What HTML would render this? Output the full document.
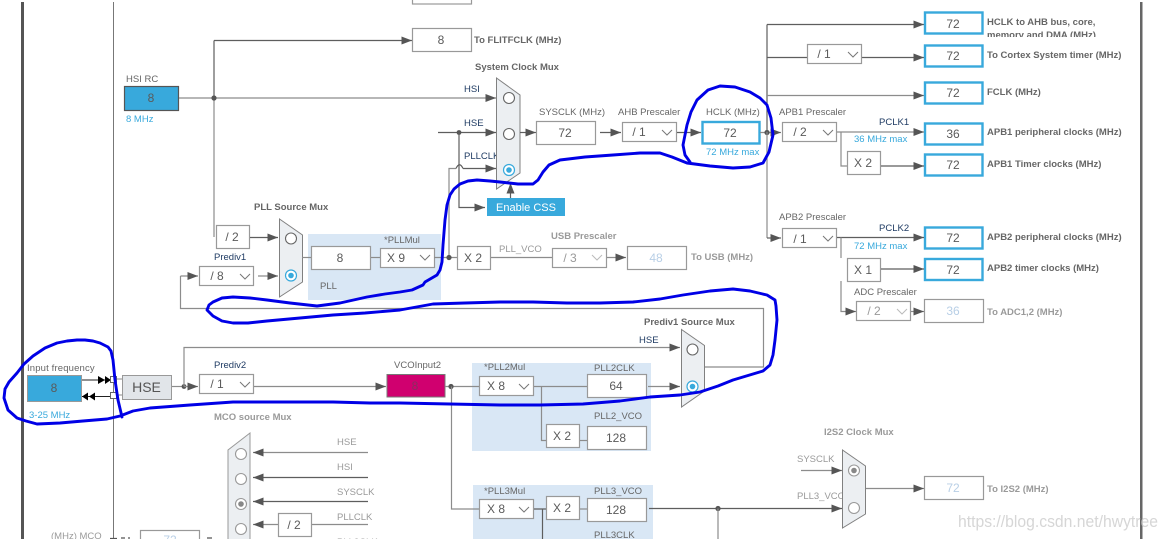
<!DOCTYPE html>
<html><head><meta charset="utf-8"><style>
html,body{margin:0;padding:0;background:#fff;width:1168px;height:539px;overflow:hidden}
svg{display:block}
text{font-family:"Liberation Sans",sans-serif;font-size:9.5px;fill:#666}
.b{font-weight:bold}
.g{fill:#9a9a9a}
.n{fill:#1f3b63}
.c{fill:#38a9dc}
.v{font-size:12px;text-anchor:middle;fill:#5a5a5a}
.vg{font-size:12px;text-anchor:middle;fill:#b8cfe6}
.l{fill:none;stroke:#8c8c8c;stroke-width:1.2}
.d{fill:none;stroke:#5e5e5e;stroke-width:1.2}
.a{marker-end:url(#m)}
.box{fill:#fff;stroke:#999;stroke-width:1.2}
.bl{fill:#fff;stroke:#38a9dc;stroke-width:2.4}
.mux{fill:#eceff2;stroke:#808080;stroke-width:1}
.o{fill:#fff;stroke:#666;stroke-width:1.1}
.ch{fill:none;stroke:#777;stroke-width:1}
.chg{fill:none;stroke:#bbb;stroke-width:1}
</style></head><body>
<svg width="1168" height="539" viewBox="0 0 1168 539" xmlns="http://www.w3.org/2000/svg">
<defs>
<marker id="m" markerUnits="userSpaceOnUse" markerWidth="11" markerHeight="9" refX="10.5" refY="4" orient="auto"><path d="M0 0L10.5 4L0 8Z" fill="#555"/></marker>
<clipPath id="clip1"><rect x="980" y="10" width="150" height="27"/></clipPath>
</defs>

<!-- frame -->
<rect x="21" y="2" width="3" height="537" fill="#555"/>
<rect x="113" y="2" width="1" height="537" fill="#777"/>
<rect x="1140" y="2" width="2.5" height="537" fill="#666"/>

<!-- blue panels -->
<rect x="308" y="234" width="133" height="66" fill="#d9e7f5"/>
<rect x="472" y="363" width="179" height="88" fill="#d9e7f5"/>
<rect x="473" y="485" width="180" height="54" fill="#d9e7f5"/>

<!-- HSI -->
<text x="126" y="82">HSI RC</text>
<rect x="124.5" y="86.5" width="54" height="24" fill="#38a9dc" stroke="#555" stroke-width="1.2"/>
<text x="151" y="102" class="v">8</text>
<text x="126" y="122" class="c">8 MHz</text>
<path class="l a" d="M179 98H496"/>
<path class="d" d="M214 98V40.5"/>
<path class="l" d="M214 98V237"/>
<path class="d a" d="M214 40.5H412"/>
<circle cx="214" cy="98" r="2.6" fill="#555"/>

<rect class="box" x="412.5" y="-10" width="59" height="14"/>
<rect class="box" x="412.5" y="28.5" width="59" height="23"/>
<text x="441" y="44" class="v">8</text>
<text x="474" y="43" class="b">To FLITFCLK (MHz)</text>

<!-- system mux -->
<text x="475" y="70" class="b">System Clock Mux</text>
<text x="464" y="92" class="n">HSI</text>
<text x="464" y="126" class="n">HSE</text>
<text x="464" y="159" class="n">PLLCLK</text>
<path class="d a" d="M438 132.5H496"/>
<circle cx="459" cy="132.5" r="2.4" fill="#555"/>
<path class="d a" d="M459 132.5V207.5H485"/>
<path class="l" d="M449 257V168.5H456"/>
<path class="d" d="M456 168.5Q459.5 161 463 168.5"/>
<path class="d a" d="M463 168.5H496"/>
<path class="mux" d="M496.5 78L520 95V173L496.5 189Z"/>
<circle class="o" cx="509" cy="98" r="5.5"/>
<circle class="o" cx="509" cy="134" r="5.5"/>
<circle cx="509" cy="170" r="5.5" fill="#fff" stroke="#38a9dc" stroke-width="1.2"/>
<circle cx="509" cy="170" r="2.8" fill="#38a9dc"/>
<path class="d a" d="M510.500 198V183"/>
<rect x="487" y="198" width="78" height="18" fill="#38a9dc"/>
<text x="526" y="211" text-anchor="middle" style="font-size:11px;fill:#fff">Enable CSS</text>

<!-- SYSCLK / AHB / HCLK -->
<text x="539" y="115">SYSCLK (MHz)</text>
<path class="d a" d="M520 132.500H536"/>
<rect class="box" x="536.500" y="121.500" width="59" height="23"/>
<text x="565" y="137" class="v">72</text>
<text x="618" y="115">AHB Prescaler</text>
<path class="d a" d="M600 132.500H621"/>
<rect class="box" x="622.500" y="122.500" width="54" height="19"/>
<text x="639" y="136" class="v">/ 1</text>
<path class="ch" d="M662 130l5 5l5-5"/>
<path class="d a" d="M677 132.500H701"/>
<text x="706" y="115">HCLK (MHz)</text>
<rect class="bl" x="702.500" y="122" width="57" height="21.500"/>
<text x="730" y="137" class="v">72</text>
<text x="706" y="155" class="c">72 MHz max</text>
<path class="l a" d="M760 132.500H781"/>
<circle cx="767" cy="132.500" r="2.600" fill="#555"/>

<!-- right trunk -->
<path class="d" d="M767 24.500V132"/>
<path class="l" d="M767 132V238"/>
<path class="d a" d="M767 24.500H924"/>
<path class="d" d="M767 57.500H807"/>
<path class="d a" d="M861 57.500H924"/>
<path class="l a" d="M767 95.500H924"/>
<path class="d a" d="M767 238H781"/>
<rect class="box" x="807.500" y="44.500" width="54" height="19"/>
<text x="824" y="58" class="v">/ 1</text>
<path class="ch" d="M848 52l5 5l5-5"/>

<rect class="bl" x="925" y="12.500" width="57.500" height="21"/>
<text x="953" y="28" class="v">72</text>
<rect class="bl" x="925" y="45.500" width="57.500" height="21"/>
<text x="953" y="60" class="v">72</text>
<rect class="bl" x="925" y="82.500" width="57.500" height="21"/>
<text x="953" y="97" class="v">72</text>
<rect class="bl" x="925" y="123.500" width="57.500" height="21"/>
<text x="953" y="138" class="v">36</text>
<rect class="bl" x="925" y="154.500" width="57.500" height="21"/>
<text x="953" y="169" class="v">72</text>
<rect class="bl" x="925" y="227.500" width="57.500" height="21"/>
<text x="953" y="242" class="v">72</text>
<rect class="bl" x="925" y="259" width="57.500" height="21"/>
<text x="953" y="274" class="v">72</text>

<g clip-path="url(#clip1)">
<text x="987" y="25" class="b">HCLK to AHB bus, core,</text>
<text x="987" y="38" class="b">memory and DMA (MHz)</text>
</g>
<text x="987" y="58" class="b">To Cortex System timer (MHz)</text>
<text x="987" y="95" class="b">FCLK (MHz)</text>
<text x="987" y="135" class="b">APB1 peripheral clocks (MHz)</text>
<text x="987" y="167" class="b">APB1 Timer clocks (MHz)</text>
<text x="987" y="240" class="b">APB2 peripheral clocks (MHz)</text>
<text x="987" y="271" class="b">APB2 timer clocks (MHz)</text>
<text x="987" y="315" class="b g">To ADC1,2 (MHz)</text>
<text x="987" y="492" class="b g">To I2S2 (MHz)</text>

<!-- APB1 -->
<text x="779" y="115">APB1 Prescaler</text>
<rect class="box" x="782.500" y="122.500" width="54" height="19"/>
<text x="800" y="136" class="v">/ 2</text>
<path class="ch" d="M823 130l5 5l5-5"/>
<path class="l a" d="M837 132H924"/>
<path class="l" d="M841 132V166H847"/>
<text x="879" y="125" class="n">PCLK1</text>
<text x="854" y="142" class="c">36 MHz max</text>
<rect class="box" x="847.500" y="151.500" width="33" height="23"/>
<text x="863" y="167" class="v">X 2</text>
<path class="d a" d="M881 166H924"/>

<!-- APB2 -->
<text x="779" y="220">APB2 Prescaler</text>
<rect class="box" x="782.500" y="228.500" width="54" height="19"/>
<text x="800" y="243" class="v">/ 1</text>
<path class="ch" d="M823 236l5 5l5-5"/>
<path class="d a" d="M837 237.500H924"/>
<path class="l" d="M841 237.500V258"/>
<path class="l a" d="M841 281V311.500H856"/>
<text x="879" y="231" class="n">PCLK2</text>
<text x="854" y="249" class="c">72 MHz max</text>
<rect class="box" x="847.500" y="258.500" width="33" height="23"/>
<text x="863" y="274" class="v">X 1</text>
<path class="d a" d="M881 269H924"/>
<text x="854" y="295">ADC Prescaler</text>
<rect class="box" x="856.500" y="301.500" width="54" height="19"/>
<text x="874" y="315" class="v" style="fill:#999">/ 2</text>
<path class="chg" d="M897 309l5 5l5-5"/>
<path class="l a" d="M911 311.500H924"/>
<rect class="box" x="924.500" y="299.500" width="59" height="23"/>
<text x="953" y="315" class="vg">36</text>

<!-- PLL source -->
<text x="254" y="210" class="b">PLL Source Mux</text>
<rect class="box" x="216.500" y="225.500" width="33" height="23"/>
<text x="232" y="241" class="v">/ 2</text>
<path class="d a" d="M250 237.500H278"/>
<text x="214" y="260" class="n">Prediv1</text>
<rect class="box" x="199.500" y="266.500" width="54" height="19"/>
<text x="217" y="280" class="v">/ 8</text>
<path class="ch" d="M240 274l5 5l5-5"/>
<path class="l a" d="M258 276H278"/>
<path class="l a" d="M180.500 276H198"/>
<path class="l" d="M180.500 276V308.500H763.500V367H705"/>
<path class="mux" d="M279.500 219L302.500 235V282L279.500 297Z"/>
<circle class="o" cx="291" cy="238.500" r="5.500"/>
<circle cx="291" cy="275.500" r="5.500" fill="#fff" stroke="#38a9dc" stroke-width="1.200"/>
<circle cx="291" cy="275.500" r="2.800" fill="#38a9dc"/>

<!-- PLL -->
<path class="l" d="M302 257.500H311"/>
<rect class="box" x="311.500" y="246.500" width="59" height="23"/>
<text x="340" y="262" class="v">8</text>
<text x="384" y="243">*PLLMul</text>
<path class="l" d="M371 257.500H380"/>
<rect class="box" x="380.500" y="248.500" width="54" height="19"/>
<text x="396" y="262" class="v">X 9</text>
<path class="ch" d="M420 255l5 5l5-5"/>
<text x="320" y="289">PLL</text>
<path class="l" d="M434 257.500H458"/>
<circle cx="449" cy="257.500" r="2.600" fill="#555"/>
<rect class="box" x="457.500" y="246.500" width="33" height="23"/>
<text x="473" y="262" class="v">X 2</text>
<text x="499" y="252" class="g">PLL_VCO</text>
<path class="l" d="M491 257.500H552"/>
<text x="551" y="239" class="b g">USB Prescaler</text>
<rect class="box" x="552.500" y="248.500" width="54" height="19"/>
<text x="570" y="262" class="v" style="fill:#999">/ 3</text>
<path class="chg" d="M592 255l5 5l5-5"/>
<path class="l a" d="M607 257.500H626"/>
<rect class="box" x="627.500" y="246.500" width="59" height="23"/>
<text x="656" y="262" class="vg">48</text>
<text x="691" y="260" class="b g">To USB (MHz)</text>

<!-- input -->
<text x="27" y="371" letter-spacing=".15">Input frequency</text>
<rect x="27.500" y="375.500" width="54" height="26" fill="#38a9dc" stroke="#999"/>
<text x="54" y="392" class="v">8</text>
<text x="29" y="418" class="c">3-25 MHz</text>
<path d="M82 380H110M82 396.500H110" stroke="#222" stroke-width="1" fill="none"/>
<path d="M98 376L105 380L98 384ZM105 376L111 380L105 384ZM88 392.500L82 396.500L88 400.500ZM95 392.500L89 396.500L95 400.500Z" fill="#000"/>
<rect x="110.500" y="376.500" width="6" height="6" fill="#fff" stroke="#666"/>
<rect x="110.500" y="392.500" width="6" height="6" fill="#fff" stroke="#666"/>
<path d="M117 379H122M117 395H122" stroke="#888"/>
<rect x="122.500" y="375.500" width="49" height="24" fill="#e1e5e9" stroke="#999"/>
<text x="146.500" y="392" text-anchor="middle" style="font-size:14px;fill:#555">HSE</text>

<!-- Prediv2 -->
<path class="l" d="M172 386.500H184"/>
<circle cx="184" cy="386.500" r="2.400" fill="#555"/>
<path class="l a" d="M184 386.500H198"/>
<path class="l a" d="M184 386.500V347.500H680"/>
<text x="214" y="368" class="n">Prediv2</text>
<rect class="box" x="199.500" y="374.500" width="54" height="19"/>
<text x="217" y="388" class="v">/ 1</text>
<path class="ch" d="M240 382l5 5l5-5"/>
<path class="l a" d="M254 386.500H386"/>
<text x="394" y="368">VCOInput2</text>
<rect x="387" y="374.500" width="58" height="22.500" fill="#d0006f" stroke="#777"/>
<text x="415" y="390" class="v" style="fill:#8a2c60">8</text>
<path class="l" d="M445 386.500H479"/>
<circle cx="451" cy="386.500" r="2.600" fill="#555"/>
<path class="l" d="M451.500 386.500V509H479"/>

<!-- PLL2 -->
<text x="484" y="370">*PLL2Mul</text>
<rect class="box" x="479.500" y="376.500" width="54" height="19"/>
<text x="496" y="390" class="v">X 8</text>
<path class="ch" d="M519 384l5 5l5-5"/>
<path class="l" d="M534 386.500H587"/>
<path class="l" d="M541.500 386.500V440.500H546"/>
<text x="594" y="371">PLL2CLK</text>
<rect class="box" x="587.500" y="374.500" width="59" height="23"/>
<text x="616" y="390" class="v">64</text>
<path class="l a" d="M648 386.500H680"/>
<text x="594" y="419">PLL2_VCO</text>
<rect class="box" x="546.500" y="424.500" width="33" height="23"/>
<text x="562" y="440" class="v">X 2</text>
<path class="l" d="M580 440.500H587"/>
<rect class="box" x="587.500" y="426.500" width="59" height="23"/>
<text x="616" y="442" class="v">128</text>

<!-- prediv1 mux -->
<text x="644" y="325" class="b">Prediv1 Source Mux</text>
<text x="639" y="343" class="n">HSE</text>
<path class="mux" d="M681.500 329.500L704.500 345.500V391L681.500 407Z"/>
<circle class="o" cx="692.500" cy="349.500" r="5.500"/>
<circle cx="692.500" cy="386.500" r="5.500" fill="#fff" stroke="#38a9dc" stroke-width="1.200"/>
<circle cx="692.500" cy="386.500" r="2.800" fill="#38a9dc"/>

<!-- PLL3 -->
<text x="484" y="494">*PLL3Mul</text>
<text x="594" y="494">PLL3_VCO</text>
<text x="594" y="538">PLL3CLK</text>
<rect class="box" x="479.500" y="499.500" width="54" height="19"/>
<text x="496" y="513" class="v">X 8</text>
<path class="ch" d="M519 507l5 5l5-5"/>
<path class="d" d="M534 509H546M542.500 509V539"/>
<rect class="box" x="546.500" y="496.500" width="33" height="23"/>
<text x="562" y="512" class="v">X 2</text>
<path class="l" d="M580 509H587"/>
<rect class="box" x="587.500" y="498.500" width="59" height="23"/>
<text x="616" y="514" class="v">128</text>
<path class="d a" d="M649 508.500H842"/>
<circle cx="718" cy="508.500" r="2.600" fill="#555"/>
<path class="l" d="M718 508.500V539"/>

<!-- I2S2 -->
<text x="824" y="435" class="b g">I2S2 Clock Mux</text>
<text x="797" y="462" class="g">SYSCLK</text>
<text x="797" y="499" class="g">PLL3_VCO</text>
<path class="l a" d="M801 470.500H842"/>
<path class="mux" d="M842.500 450L865.500 466V514L842.500 528Z"/>
<circle class="o" cx="854" cy="470.500" r="5.500" style="stroke:#999"/>
<circle cx="854" cy="470.500" r="2.800" fill="#888"/>
<circle class="o" cx="854" cy="508" r="5.500" style="stroke:#999"/>
<path class="l a" d="M866 488.500H924"/>
<rect class="box" x="924.500" y="476.500" width="59" height="23"/>
<text x="953" y="492" class="vg">72</text>

<!-- MCO -->
<text x="214" y="420" class="b g">MCO source Mux</text>
<path class="mux" d="M250 433L228 450V545H250Z" style="stroke:#999"/>
<circle class="o" cx="241" cy="454" r="5.500" style="stroke:#999"/>
<circle class="o" cx="241" cy="479" r="5.500" style="stroke:#999"/>
<circle class="o" cx="241" cy="504" r="5.500" style="stroke:#999"/>
<circle cx="241" cy="504" r="2.800" fill="#888"/>
<circle class="o" cx="241" cy="529" r="5.500" style="stroke:#999"/>
<text x="337" y="445" class="g">HSE</text>
<text x="337" y="470" class="g">HSI</text>
<text x="337" y="495" class="g">SYSCLK</text>
<text x="337" y="520" class="g">PLLCLK</text>
<text x="337" y="545" class="g">PLL2CLK</text>
<path class="l a" d="M368 452.500H253"/>
<path class="d a" d="M368 477.500H253"/>
<path class="d a" d="M368 501.500H253"/>
<path class="l" d="M311 524.500H368"/>
<path class="l a" d="M278 524.500H253"/>
<rect class="box" x="278.500" y="513.500" width="33" height="23"/>
<text x="294" y="529" class="v">/ 2</text>
<text x="51" y="539" class="g">(MHz) MCO</text>
<rect class="box" x="140.500" y="530.500" width="59" height="23"/>
<text x="170" y="544" class="vg">72</text>
<path d="M110 538.500H117M121 538H125M128 538H130M207 538H212" stroke="#555" stroke-width="1.200"/>

<!-- watermark -->
<text x="958" y="527" textLength="200" lengthAdjust="spacingAndGlyphs" style="font-size:17px;fill:#c8c8c8;fill-opacity:.75">https://blog.csdn.net/hwytree</text>

<!-- blue scribble -->
<polyline fill="none" stroke="#0000e6" stroke-width="2.900" stroke-linejoin="round" stroke-linecap="round" points="122,417 118,400 115,380 113,360 111,351 108,347 100,343 93,341 85,340 77,340 67,341 57,343 45,348 33,356 24,364 17,373 9,382 5,389 4,398 8,410 17,418 26,421 37,424 60,423 83,421 107,419 120,416 133,411 150,408 190,405 233,402 285,402 333,402 370,403 400,403 450,404 500,405 540,405 583,404 620,401 650,397 680,395 700,392 718,386 733,380 753,374 763,371 770,365 773,355 775,340 777,320 776,306 775,300 767,295 750,291 733,289 710,291 683,295 660,299 633,302 600,303 567,303 533,302 500,302 465,303 433,304 400,310 365,313 333,315 300,318 267,321 248,323 233,323 222,321 213,316 207,310 209,305 213,302 222,298 233,297 250,298 267,300 290,303 317,306 340,303 367,297 385,294 400,292 412,290 423,285 425,282 437,275 440,270 442,262 443,245 445,220 447,205 450,195 454,189 460,184 468,181 477,180 490,181 500,182 518,184 533,184 538,180 543,172 549,165 560,160 585,157 613,155 640,153 660,153 672,157 687,163 710,166 733,168 750,167 763,163 769,152 773,135 771,118 767,105 760,98 750,92 735,87 720,86 708,90 697,100 691,112 687,125 683,145 685,155 690,162"/>
</svg>
</body></html>
